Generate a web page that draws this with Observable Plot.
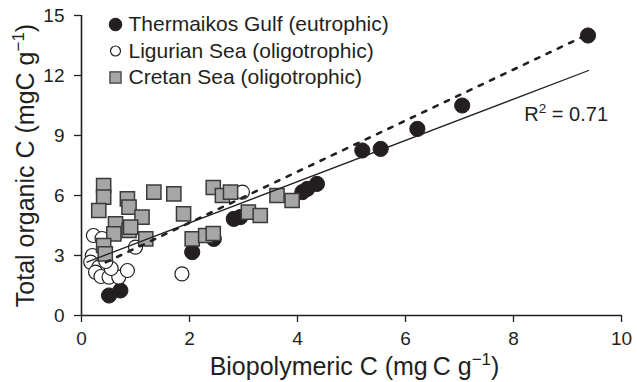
<!DOCTYPE html>
<html><head><meta charset="utf-8">
<script src="https://cdn.jsdelivr.net/npm/d3@7"></script>
<script src="https://cdn.jsdelivr.net/npm/@observablehq/plot@0.6"></script>
<style>
html,body{margin:0;padding:0;background:#fff;}
#chart svg{font-family:"Liberation Sans",Arial,Helvetica,sans-serif;overflow:visible;}
</style></head><body><div id="chart"></div>
<script>
// ---- data ----
const seriesNames = ["Thermaikos Gulf (eutrophic)", "Ligurian Sea (oligotrophic)", "Cretan Sea (oligotrophic)"];
const thermaikosX = [9.38, 7.05, 6.22, 5.54, 5.2, 4.36, 4.18, 4.09, 2.94, 2.82, 2.45, 2.05, 0.72, 0.51];
const thermaikosY = [14.0, 10.5, 9.33, 8.33, 8.25, 6.58, 6.33, 6.17, 4.92, 4.83, 3.83, 3.17, 1.25, 1.0];
const ligurianX = [0.22, 0.38, 0.2, 0.17, 0.32, 0.26, 0.36, 0.51, 0.69, 0.85, 0.55, 0.45, 1.0, 1.86, 2.98];
const ligurianY = [4.0, 3.85, 3.0, 2.67, 2.42, 2.17, 1.95, 1.92, 1.92, 2.25, 2.35, 2.7, 3.42, 2.08, 6.17];
const cretanX = [0.41, 0.41, 0.32, 0.85, 0.88, 0.63, 1.12, 0.6, 0.88, 0.91, 1.19, 0.41, 0.44, 1.34, 1.71, 1.89, 2.05, 2.3, 2.44, 2.44, 2.61, 2.76, 3.09, 3.31, 3.62, 3.9];
const cretanY = [6.5, 5.92, 5.25, 5.83, 5.42, 4.58, 4.92, 4.08, 4.25, 4.42, 3.83, 3.5, 3.08, 6.17, 6.08, 5.08, 3.83, 4.0, 4.1, 6.4, 6.0, 6.17, 5.17, 5.0, 6.0, 5.75];
// fitted lines (end points)
const allFitX = [0.1, 9.39];
const allFitY = [2.67, 12.25];
const thermFitX = [0.45, 9.38];
const thermFitY = [2.66, 14.06];
const r2Text = "R^{2} = 0.71";
const r2Pos = [8.2, 9.75];
const xTicks = [0, 2, 4, 6, 8, 10];
const yTicks = [0, 3, 6, 9, 12, 15];
const xTitle = "Biopolymeric C (mg\u2009C g^{\u22121})";
const yTitle = "Total organic C (mgC g^{\u22121})";

const ink = "#231f20";
const zip = (xs, ys) => xs.map((x, i) => ({x, y: ys[i]}));
const therm = zip(thermaikosX, thermaikosY);
const lig = zip(ligurianX, ligurianY);
const cret = zip(cretanX, cretanY);
const fitAll = zip(allFitX, allFitY);
const fitTherm = zip(thermFitX, thermFitY);

const legendStyles = [
  {symbol: "circle", fill: ink, stroke: ink, strokeWidth: 1, r: 6.3},
  {symbol: "circle", fill: "white", stroke: ink, strokeWidth: 1.2, r: 5},
  {symbol: "square", fill: "#a6a6a6", stroke: "#3a3a3a", strokeWidth: 1.2, r: 6.3}
];
const legendMarks = [];
seriesNames.forEach((name, i) => {
  const dy = 9 + i * 26.5;
  legendMarks.push(Plot.dot([name], {frameAnchor: "top-left", dx: 34, dy, ...legendStyles[i]}));
  legendMarks.push(Plot.text([name], {frameAnchor: "top-left", dx: 47, dy, text: d => d, textAnchor: "start", lineAnchor: "middle", fontSize: 21, fill: ink}));
});

const chart = Plot.plot({
  width: 637,
  height: 382,
  marginLeft: 81,
  marginRight: 16,
  marginTop: 15,
  marginBottom: 67,
  style: {background: "white", color: ink},
  x: {domain: [0, 10]},
  y: {domain: [0, 15]},
  marks: [
    Plot.axisX({ticks: xTicks, tickSize: 7, tickPadding: 9, fontSize: 19, label: null, stroke: ink, strokeWidth: 1.3}),
    Plot.axisY({ticks: yTicks, tickSize: 7, tickPadding: 10, fontSize: 19, label: null, stroke: ink, strokeWidth: 1.3}),
    Plot.ruleY([0], {stroke: ink, strokeWidth: 1.6}),
    Plot.ruleX([0], {stroke: ink, strokeWidth: 1.6}),
    Plot.text([xTitle], {frameAnchor: "bottom", dx: 3, dy: 59, text: d => d, textAnchor: "middle", lineAnchor: "bottom", fontSize: 25, fill: ink}),
    Plot.text([yTitle], {frameAnchor: "left", dx: -48, dy: 0, rotate: -90, text: d => d, textAnchor: "middle", lineAnchor: "bottom", fontSize: 25, fill: ink}),
    Plot.dot(therm, {x: "x", y: "y", r: 7.6, fill: ink, stroke: ink, strokeWidth: 1}),
    Plot.dot(lig, {x: "x", y: "y", r: 7, fill: "white", stroke: ink, strokeWidth: 1.2}),
    Plot.dot(cret, {x: "x", y: "y", r: 8, symbol: "square", fill: "#a6a6a6", stroke: "#3a3a3a", strokeWidth: 1.5}),
    Plot.line(fitAll, {x: "x", y: "y", stroke: ink, strokeWidth: 1.3}),
    Plot.line(fitTherm, {x: "x", y: "y", stroke: ink, strokeWidth: 2.6, strokeDasharray: "4.5,8"}),
    Plot.text([r2Text], {x: () => r2Pos[0], y: () => r2Pos[1], text: d => d, textAnchor: "start", lineAnchor: "bottom", fontSize: 20, fill: ink}),
    ...legendMarks
  ]
});
document.getElementById("chart").appendChild(chart);

// turn "^{...}" into superscript tspans
chart.querySelectorAll("text").forEach(t => {
  const s = t.textContent;
  if (!s.includes("^{")) return;
  const parts = s.split(/(\^\{[^}]*\})/);
  while (t.firstChild) t.removeChild(t.firstChild);
  let raised = false;
  parts.forEach(p => {
    if (!p) return;
    const ts = document.createElementNS("http://www.w3.org/2000/svg", "tspan");
    if (p.startsWith("^{")) {
      ts.textContent = p.slice(2, -1);
      ts.setAttribute("font-size", "68%");
      ts.setAttribute("dy", "-0.55em");
      raised = true;
    } else {
      ts.textContent = p;
      if (raised) { ts.setAttribute("dy", "0.374em"); raised = false; }
    }
    t.appendChild(ts);
  });
});
</script></body></html>
